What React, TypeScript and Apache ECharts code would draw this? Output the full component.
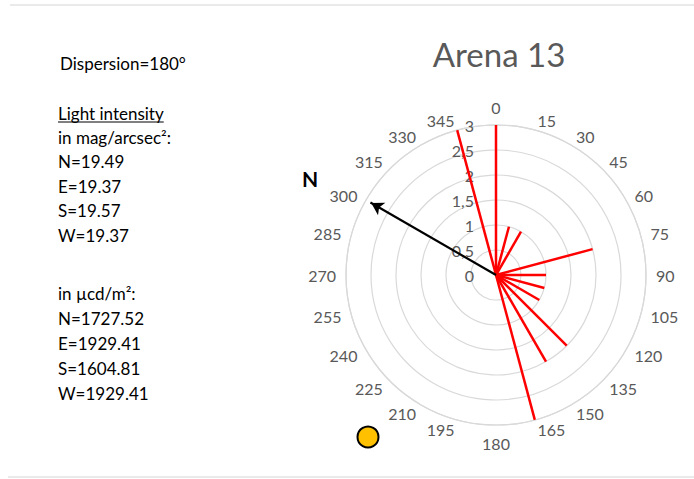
import React, { useEffect, useRef } from "react";
import * as echarts from "echarts";

const angleTicks = [0, 15, 30, 45, 60, 75, 90, 105, 120, 135, 150, 165, 180, 195, 210, 225, 240, 255, 270, 285, 300, 315, 330, 345];
const spokeAngles = [0, 15, 30, 75, 90, 105, 120, 135, 150, 165, 345];
const spokeValues = [3, 1, 1, 2, 1, 1, 1, 2, 2, 3, 3];
const northAngle = 300;
const northLength = 3;
const radiusTicks = [0, 0.5, 1, 1.5, 2, 2.5, 3];
const radiusMax = 3;
const angleLabelRadius = 3.2;

const titleText = "Arena 13";
const infoLines = [
  "Dispersion=180°",
  "",
  "Light intensity",
  "in mag/arcsec²:",
  "N=19.49",
  "E=19.37",
  "S=19.57",
  "W=19.37",
  "",
  "in µcd/m²:",
  "N=1727.52",
  "E=1929.41",
  "S=1604.81",
  "W=1929.41",
];

const FONT = "Lato, 'Open Sans', sans-serif";

export default function App() {
  const ref = useRef<HTMLDivElement>(null);
  useEffect(() => {
    document.body.style.margin = "0";
    const chart = echarts.init(ref.current!, null, { renderer: "svg" });

    const spokeSeries = spokeAngles.map((a, i) => ({
      type: "line",
      coordinateSystem: "polar",
      data: [
        [0, a],
        [spokeValues[i], a],
      ],
      symbol: "none",
      lineStyle: { color: "#FF0000", width: 2.5 },
      silent: true,
      z: 3,
    }));

    const angleLabelData = angleTicks.map((a) => {
      const align = a === 0 || a === 180 ? "center" : a < 180 ? "left" : "right";
      const vAlign = a === 0 ? "bottom" : a === 180 ? "top" : "middle";
      return { value: [angleLabelRadius, a], label: { align, verticalAlign: vAlign } };
    });

    let underlineW = 125;
    try {
      const c = document.createElement("canvas").getContext("2d")!;
      c.font = `17px ${FONT}`;
      underlineW = c.measureText(infoLines[2]).width;
    } catch (e) {}

    const lineYs = [63, 0, 113, 137, 161, 186, 210, 235, 0, 293, 318, 343, 368, 393];
    const textGraphics: any[] = [];
    infoLines.forEach((t, i) => {
      if (!t) return;
      textGraphics.push({
        type: "text",
        x: i === 0 ? 60 : 58,
        y: lineYs[i],
        style: { text: t, fill: "#000", font: `17px ${FONT}`, verticalAlign: "middle" },
      });
    });

    chart.setOption({
      animation: false,
      backgroundColor: "#fff",
      title: {
        text: titleText,
        left: 494,
        top: 32,
        textAlign: "center",
        textStyle: { color: "#595959", fontSize: 33, fontWeight: "normal", fontFamily: FONT },
      },
      polar: { center: [496, 275], radius: 150 },
      angleAxis: {
        type: "value",
        min: 0,
        max: 360,
        interval: 15,
        startAngle: 90,
        clockwise: true,
        axisLine: { show: true, lineStyle: { color: "#d9d9d9", width: 1.2 } },
        axisTick: { show: false },
        splitLine: { show: false },
        axisLabel: { show: false },
      },
      radiusAxis: {
        type: "value",
        min: 0,
        max: radiusMax,
        interval: 0.5,
        axisLine: { show: false },
        axisTick: { show: false },
        splitLine: { show: true, lineStyle: { color: "#d9d9d9", width: 1.2 } },
        axisLabel: {
          color: "#595959",
          fontSize: 16,
          fontFamily: FONT,
          margin: 10,
          align: "right",
          verticalAlign: "middle",
          padding: [0, 12, 0, 0],
          formatter: (v: number) => (radiusTicks.includes(v) ? String(v).replace(".", ",") : ""),
        },
      },
      series: [
        ...spokeSeries,
        {
          type: "line",
          coordinateSystem: "polar",
          data: [
            [0, northAngle],
            [northLength - 0.1, northAngle],
          ],
          symbol: "none",
          lineStyle: { color: "#000", width: 2.2 },
          silent: true,
          z: 4,
        },
        {
          type: "scatter",
          coordinateSystem: "polar",
          data: [[northLength - 0.12, northAngle]],
          symbol: "arrow",
          symbolSize: [11, 12],
          symbolRotate: 360 - northAngle,
          itemStyle: { color: "#000", opacity: 1 },
          silent: true,
          z: 5,
        },
        {
          type: "scatter",
          name: "angle labels",
          coordinateSystem: "polar",
          clip: false,
          data: angleLabelData,
          symbol: "circle",
          symbolSize: 1,
          itemStyle: { color: "rgba(255,255,255,0)", opacity: 1 },
          silent: true,
          label: {
            show: true,
            position: "inside",
            color: "#595959",
            fontSize: 16,
            fontFamily: FONT,
            textBorderWidth: 0,
            formatter: (p: any) => String(p.value[1]),
          },
          z: 2,
        },
      ],
      graphic: [
        { type: "line", shape: { x1: 10, y1: 5, x2: 694, y2: 5 }, style: { stroke: "#e3e3e3", lineWidth: 1.5 } },
        { type: "line", shape: { x1: 8, y1: 477, x2: 694, y2: 477 }, style: { stroke: "#e3e3e3", lineWidth: 1.5 } },
        ...textGraphics,
        { type: "line", shape: { x1: 58, y1: 122, x2: 58 + underlineW, y2: 122 }, style: { stroke: "#000", lineWidth: 1 } },
        {
          type: "text",
          x: 302,
          y: 178,
          style: { text: "N", fill: "#000", font: `bold 21px ${FONT}`, verticalAlign: "middle" },
        },
        {
          type: "circle",
          shape: { cx: 368, cy: 437, r: 10.5 },
          style: { fill: "#FFC000", stroke: "#000", lineWidth: 2 },
        },
      ],
    });
    return () => chart.dispose();
  }, []);
  return <div ref={ref} style={{ position: "fixed", left: 0, top: 0, width: 694, height: 479 }} />;
}
